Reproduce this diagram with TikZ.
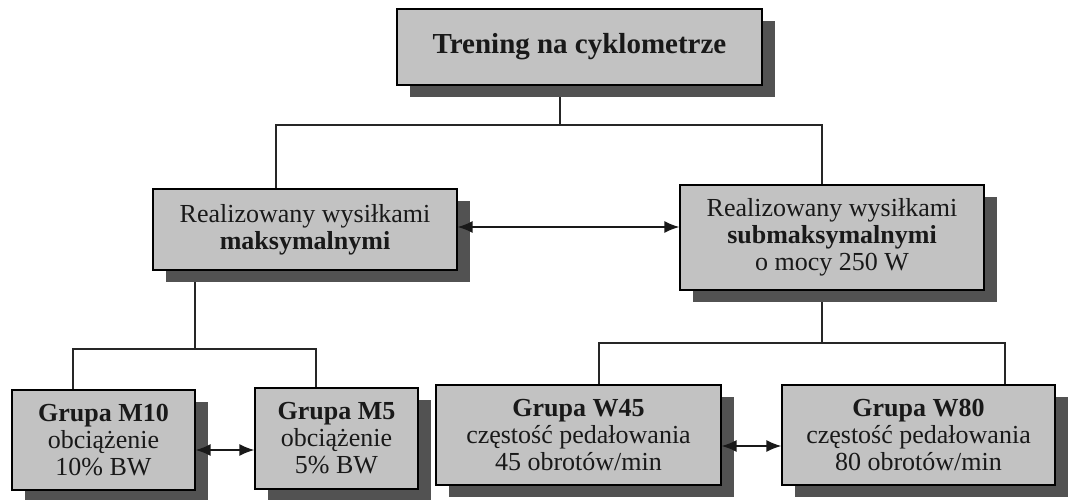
\documentclass[tikz,border=0pt]{standalone}
\usepackage{fontspec}
\setmainfont{Liberation Serif}
\usetikzlibrary{shadows,arrows.meta,backgrounds}
\begin{document}
\begin{tikzpicture}[x=1pt,y=-1pt,
  box/.style={draw=black, line width=1.3pt, fill=black!24, align=center, inner sep=0pt,
    text=black!90, font=\fontsize{26}{27}\selectfont,
    general shadow={fill=black!68, shadow xshift=13pt, shadow yshift=-12pt}},
  conn/.style={line width=1.2pt, draw=black!85},
  biarrow/.style={line width=1.5pt, draw=black!90,
    {Latex[length=15pt,width=12pt]}-{Latex[length=15pt,width=12pt]}}]
\useasboundingbox (0,0) rectangle (1068,499);
\clip (0,0) rectangle (1068,499);

% boxes
\node[box, minimum width=365pt, minimum height=76pt, font=\fontsize{29}{29}\selectfont\bfseries]
  (top) at (579.5,47) {Trening na cyklometrze};
\node[box, minimum width=304pt, minimum height=81pt] (lmid) at (305,229.5)
  {Realizowany wysiłkami\\\textbf{maksymalnymi}};
\node[box, minimum width=304pt, minimum height=105pt] (rmid) at (832,237.5)
  {Realizowany wysiłkami\\\textbf{submaksymalnymi}\\o mocy 250 W};
\node[box, minimum width=183pt, minimum height=100pt] (m10) at (103.5,440)
  {\textbf{Grupa M10}\\obciążenie\\10\% BW};
\node[box, minimum width=163pt, minimum height=101pt] (m5) at (336.5,438.5)
  {\textbf{Grupa M5}\\obciążenie\\5\% BW};
\node[box, minimum width=285pt, minimum height=100pt] (w45) at (578.5,435)
  {\textbf{Grupa W45}\\częstość pedałowania\\45 obrotów/min};
\node[box, minimum width=273pt, minimum height=100pt] (w80) at (918.5,435)
  {\textbf{Grupa W80}\\częstość pedałowania\\80 obrotów/min};

% junction coordinates
\coordinate (t0) at (560,125);
\coordinate (tl) at (276,125);
\coordinate (tr) at (822,125);
\coordinate (l0) at (195,349);
\coordinate (ll) at (73,349);
\coordinate (lr) at (316,349);
\coordinate (r0) at (822,343);
\coordinate (rl) at (599,343);
\coordinate (rr) at (1005,343);

\begin{scope}[on background layer]
  \draw[conn] (t0 |- top.south) -- (t0);
  \draw[conn] (tl |- lmid.north) -- (tl) -- (tr) -- (tr |- rmid.north);
  \draw[conn] (l0 |- lmid.south) -- (l0);
  \draw[conn] (ll |- m10.north) -- (ll) -- (lr) -- (lr |- m5.north);
  \draw[conn] (r0 |- rmid.south) -- (r0);
  \draw[conn] (rl |- w45.north) -- (rl) -- (rr) -- (rr |- w80.north);
\end{scope}

% arrows
\coordinate (a1) at (0,227);
\coordinate (a2) at (0,450);
\coordinate (a3) at (0,446);
\draw[biarrow] (lmid.east |- a1) -- (rmid.west |- a1);
\draw[biarrow] (m10.east |- a2) -- (m5.west |- a2);
\draw[biarrow] (w45.east |- a3) -- (w80.west |- a3);
\end{tikzpicture}
\end{document}
